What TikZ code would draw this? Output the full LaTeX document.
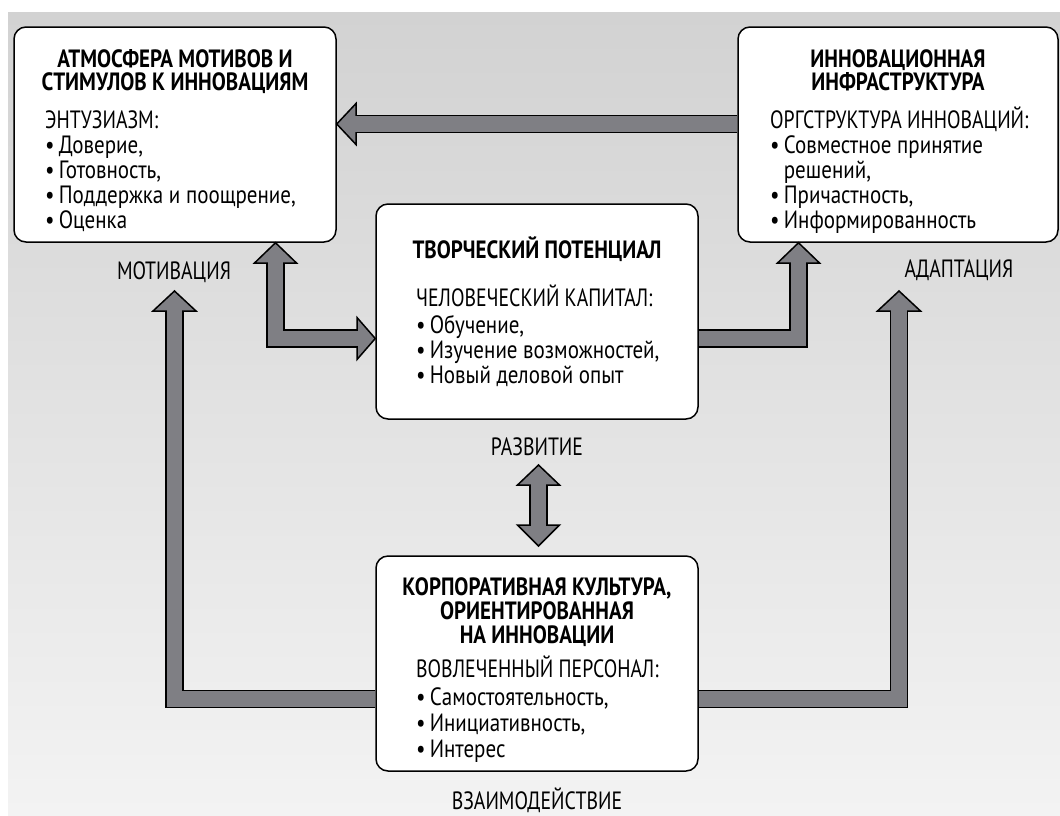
\documentclass[tikz,border=0pt]{standalone}
\usepackage{fontspec}
\setmainfont{PT Sans}[FakeStretch=0.84]
\newfontfamily\capsf{PT Sans}[FakeStretch=0.79]
\definecolor{bgtop}{HTML}{D2D2D2}
\definecolor{bgbot}{HTML}{F3F3F3}
\definecolor{arrowgray}{HTML}{7F7F84}
\begin{document}
\begin{tikzpicture}[x=1pt,y=-1pt,
 box/.style={draw=black, line width=1.5pt, fill=white, rounded corners=12pt, minimum width=322pt, minimum height=215pt, inner sep=0pt},
 ttl/.style={font=\bfseries\fontsize{25}{23}\selectfont, align=center, inner sep=0pt, anchor=base},
 bdy/.style={font=\fontsize{25}{25}\selectfont, align=left, inner sep=0pt, anchor=base west},
 lbl/.style={font=\capsf\fontsize{25}{24}\selectfont, inner sep=0pt, anchor=base},
 shout/.style={draw=black, line width=18.5pt, line join=miter},
 shin/.style={draw=arrowgray, line width=15.5pt, line join=miter},
 head/.style={fill=arrowgray, draw=black, line width=1.5pt, line join=miter}
]
\useasboundingbox (0,0) rectangle (1060,815);
\fill[white] (0,0) rectangle (1060,815);
\shade[top color=bgtop, bottom color=bgbot] (8,12) rectangle (1060,815);

% boxes
\node[box] (A) at (175,134.5) {};
\node[box, minimum width=320pt] (B) at (898,134.5) {};
\node[box] (C) at (537,311.5) {};
\node[box] (D) at (537,663.5) {};

% arrow B -> A
\draw[shout] (B.west |- 0,124) -- (356,124);
\draw[head] (A.east |- 0,124) -- (356,103.5) -- (356,144.5) -- cycle;
\draw[shin] (B.west |- 0,124) -- (354,124);

% arrow A <-> C
\draw[shout] (275.5,263) -- (275.5,338.5) -- (357,338.5);
\draw[head] (275.5,0 |- A.south) -- (254.5,263) -- (296.5,263) -- cycle;
\draw[head] (C.west |- 0,338.5) -- (357,317.5) -- (357,359.5) -- cycle;
\draw[shin] (275.5,261) -- (275.5,338.5) -- (359,338.5);

% arrow C -> B
\draw[shout] (C.east |- 0,338.5) -- (798.5,338.5) -- (798.5,263);
\draw[head] (798.5,0 |- B.south) -- (777.5,263) -- (819.5,263) -- cycle;
\draw[shin] (C.east |- 0,338.5) -- (798.5,338.5) -- (798.5,261);

% arrow D -> motivation
\draw[shout] (D.west |- 0,699) -- (174.5,699) -- (174.5,311);
\draw[head] (174.5,291) -- (153,311) -- (196,311) -- cycle;
\draw[shin] (D.west |- 0,699) -- (174.5,699) -- (174.5,309);

% arrow D -> adaptation
\draw[shout] (D.east |- 0,699) -- (899,699) -- (899,311);
\draw[head] (899,291) -- (877.5,311) -- (920.5,311) -- cycle;
\draw[shin] (D.east |- 0,699) -- (899,699) -- (899,309);

% arrow development <-> D
\draw[shout] (538.5,485) -- (538.5,525);
\draw[head] (538.5,465) -- (517.5,485) -- (559.5,485) -- cycle;
\draw[head] (538.5,546) -- (517.5,525) -- (559.5,525) -- cycle;
\draw[shin] (538.5,483) -- (538.5,527);

% texts (anchor base = baseline of the last line)
\node[ttl] (At) at (175,90) {АТМОСФЕРА МОТИВОВ И\\СТИМУЛОВ К ИННОВАЦИЯМ};
\node[bdy] (Ab) at (45,228) {{\capsf ЭНТУЗИАЗМ:}\\•\,Доверие,\\•\,Готовность,\\•\,Поддержка и поощрение,\\•\,Оценка};
\node[ttl] (Bt) at (898,90) {ИННОВАЦИОННАЯ\\ИНФРАСТРУКТУРА};
\node[bdy] (Bb) at (770,228) {{\capsf ОРГСТРУКТУРА ИННОВАЦИЙ:}\\•\,Совместное принятие\\\phantom{•\,}решений,\\•\,Причастность,\\•\,Информированность};
\node[ttl] (Ct) at (537,258) {ТВОРЧЕСКИЙ ПОТЕНЦИАЛ};
\node[bdy] (Cb) at (416,383) {{\capsf ЧЕЛОВЕЧЕСКИЙ КАПИТАЛ:}\\[1.5pt]•\,Обучение,\\•\,Изучение возможностей,\\•\,Новый деловой опыт};
\node[ttl, font=\bfseries\fontsize{25}{24}\selectfont] (Dt) at (537,643) {КОРПОРАТИВНАЯ КУЛЬТУРА,\\ОРИЕНТИРОВАННАЯ\\НА ИННОВАЦИИ};
\node[bdy, font=\fontsize{25}{26}\selectfont] (Db) at (416,757) {{\capsf ВОВЛЕЧЕННЫЙ ПЕРСОНАЛ:}\\[2pt]•\,Самостоятельность,\\•\,Инициативность,\\•\,Интерес};

\node[lbl] (mot) at (174,279) {МОТИВАЦИЯ};
\node[lbl] (ada) at (959,277) {АДАПТАЦИЯ};
\node[lbl] (raz) at (537,455) {РАЗВИТИЕ};
\node[lbl] (vza) at (537,809) {ВЗАИМОДЕЙСТВИЕ};
\end{tikzpicture}
\end{document}
